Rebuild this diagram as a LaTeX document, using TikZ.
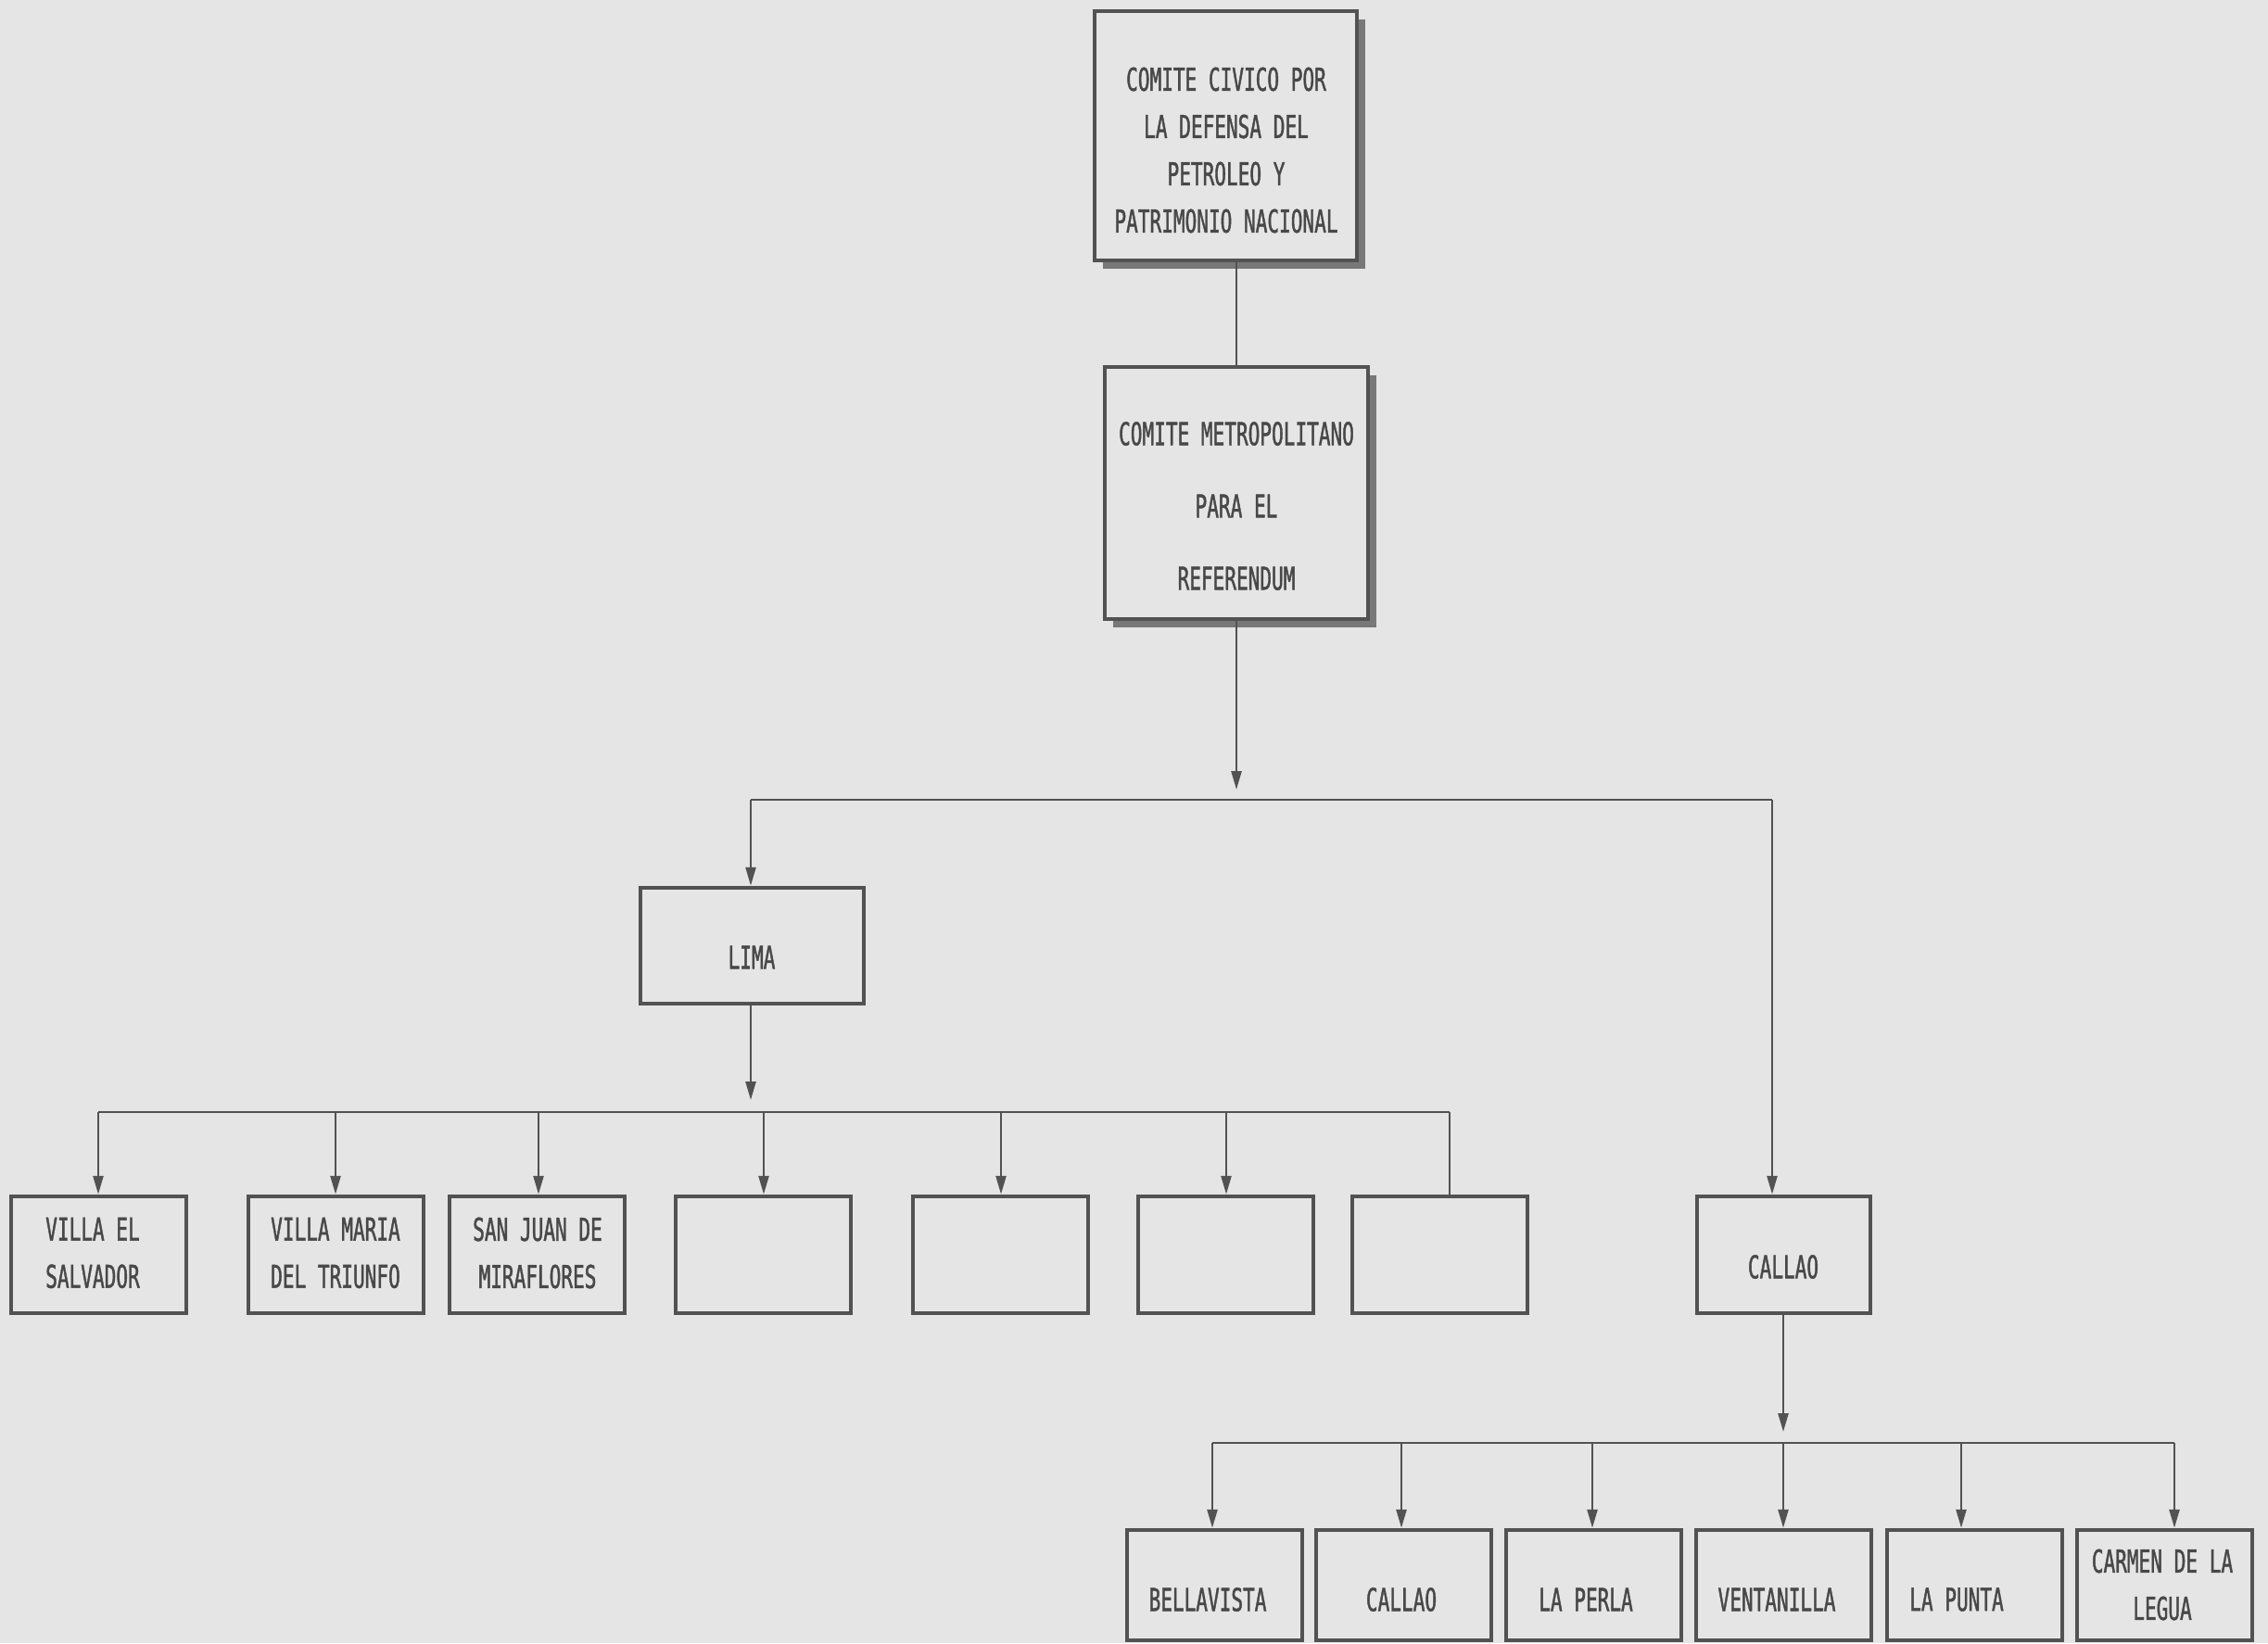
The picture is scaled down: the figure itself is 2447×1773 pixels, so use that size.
\documentclass[tikz,border=0pt]{standalone}
\usepackage{fontspec}
\newfontfamily\dotfont[FakeStretch=0.62,FakeBold=1.2]{DejaVu Sans Mono}
\usetikzlibrary{arrows.meta,shadows}
\definecolor{paper}{RGB}{229,229,229}
\definecolor{ink}{RGB}{82,82,82}
\definecolor{txt}{RGB}{72,72,72}
\definecolor{shade}{RGB}{120,120,120}
\begin{document}
\begin{tikzpicture}[x=1pt,y=-1pt,
  box/.style={draw=ink, line width=4.5pt, fill=paper, inner sep=0pt},
  shbox/.style={box, drop shadow={shadow xshift=9pt, shadow yshift=-9pt, fill=shade, opacity=1}},
  lbl/.style={text=txt, align=center, inner sep=0pt, font=\dotfont\fontsize{34}{51}\selectfont},
  conn/.style={draw=ink, line width=2.5pt},
  arr/.style={conn, -{Triangle[length=20pt,width=11pt]}}]
\path[use as bounding box, fill=paper] (0,0) rectangle (2447,1773);

% top boxes
\node[shbox, minimum width=283pt, minimum height=269pt] (civ) at (1322.5,146.5) {};
\node[lbl] (civt) at (1323,162) {COMITE CIVICO POR\\LA DEFENSA DEL\\PETROLEO Y\\PATRIMONIO NACIONAL};
\node[shbox, minimum width=284pt, minimum height=272pt] (ref) at (1334,532) {};
\node[lbl] (reft) at (1334,546) {COMITE METROPOLITANO\\[27pt]PARA EL\\[27pt]REFERENDUM};

% second level
\node[box, minimum width=241pt, minimum height=125pt] (lima) at (811.5,1020.5) {};
\node[lbl] (limat) at (811,1033) {LIMA};
\node[box, minimum width=187pt, minimum height=126pt] (callao) at (1924.5,1354) {};
\node[lbl] (callaot) at (1924,1367) {CALLAO};

% Lima children
\foreach \i/\x in {1/106.5,2/362.5,3/579.5,4/823.5,5/1079.5,6/1322.5,7/1553.5}
  \node[box, minimum width=189pt, minimum height=126pt] (l\i) at (\x,1354) {};
\node[lbl] (l1t) at (100,1352) {VILLA EL\\SALVADOR};
\node[lbl] (l2t) at (362,1352) {VILLA MARIA\\DEL TRIUNFO};
\node[lbl] (l3t) at (580,1352) {SAN JUAN DE\\MIRAFLORES};

% Callao children
\foreach \i/\x in {1/1310.5,2/1514.5,3/1719.5,4/1924.5,5/2130.5,6/2335.5}
  \node[box, minimum width=189pt, minimum height=119pt] (c\i) at (\x,1710.5) {};
\node[lbl] (c1t) at (1303,1726) {BELLAVISTA};
\node[lbl] (c2t) at (1512,1726) {CALLAO};
\node[lbl] (c3t) at (1711,1726) {LA PERLA};
\node[lbl] (c4t) at (1917,1726) {VENTANILLA};
\node[lbl] (c5t) at (2111,1726) {LA PUNTA};
\node[lbl] (c6t) at (2333,1710) {CARMEN DE LA\\LEGUA};

% connectors top
\draw[conn] (civ.south -| ref.north) -- (ref.north);
\coordinate (m1) at (1334,852);
\draw[arr] (ref.south) -- (m1);
\coordinate (mbl) at (810,863);
\coordinate (mbr) at (1912,863);
\draw[conn] (mbl) -- (mbr);
\draw[arr] (mbl) -- (mbl |- lima.north);
\draw[arr] (mbr) -- (mbr |- callao.north);

% Lima branch
\coordinate (la) at (810,1187);
\draw[arr] (lima.south -| la) -- (la);
\foreach \i/\x in {1/106,2/362,3/581,4/824,5/1080,6/1323,7/1564}
  \coordinate (lb\i) at (\x,1200);
\draw[conn] (lb1) -- (lb7);
\foreach \i in {1,...,6}
  \draw[arr] (lb\i) -- (lb\i |- l\i.north);
\draw[conn] (lb7) -- (lb7 |- l7.north);

% Callao branch
\coordinate (ca) at (1924,1545);
\draw[arr] (callao.south -| ca) -- (ca);
\foreach \i/\x in {1/1308,2/1512,3/1718,4/1924,5/2116,6/2346}
  \coordinate (cb\i) at (\x,1557);
\draw[conn] (cb1) -- (cb6);
\foreach \i in {1,...,6}
  \draw[arr] (cb\i) -- (cb\i |- c\i.north);
\end{tikzpicture}
\end{document}
